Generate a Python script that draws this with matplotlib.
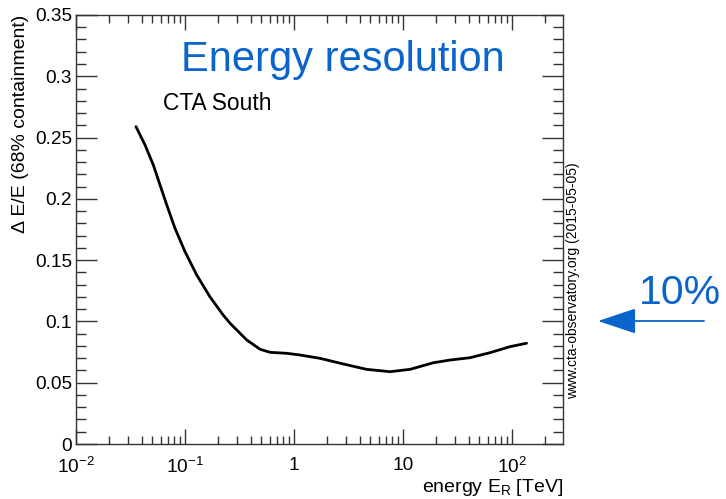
import numpy as np
import matplotlib.pyplot as plt
from matplotlib.ticker import FixedLocator, MultipleLocator, FuncFormatter

plt.rcParams['font.family'] = ['Liberation Sans', 'DejaVu Sans']
plt.rcParams['mathtext.fontset'] = 'custom'
plt.rcParams['mathtext.rm'] = 'Liberation Sans'
plt.rcParams['mathtext.it'] = 'Liberation Sans'

# energy resolution curve, CTA South
energy_tev = [0.0355, 0.0430, 0.0512, 0.0590, 0.0680, 0.0809, 0.100, 0.128,
              0.169, 0.224, 0.259, 0.368, 0.488, 0.602, 0.857, 1.135, 1.73,
              2.83, 4.64, 7.60, 11.6, 19.0, 27.0, 41.2, 62.8, 95.9, 136.0]
resolution = [0.2589, 0.2439, 0.2276, 0.2113, 0.1950, 0.1760, 0.1569, 0.1379,
              0.1202, 0.1052, 0.0985, 0.0849, 0.0773, 0.0748, 0.0740, 0.0726,
              0.0699, 0.0653, 0.0609, 0.0590, 0.0609, 0.0663, 0.0685, 0.0704,
              0.0745, 0.0794, 0.0822]

x_major = [1e-2, 1e-1, 1, 10, 1e2]
x_labels = ['$10^{-2}$', '$10^{-1}$', '1', '10', '$10^{2}$']

blue = '#0a64cc'
frame = '#333333'

fig = plt.figure(figsize=(7.26, 4.99), dpi=100)
ax = fig.add_axes([0.1047, 0.1102, 0.6708, 0.8598])

ax.plot(energy_tev, resolution, color='black', lw=2.0,
        solid_capstyle='round', solid_joinstyle='round')

ax.set_xscale('log')
ax.set_xlim(1e-2, 10 ** 2.468)
ax.set_ylim(0, 0.35)

ax.xaxis.set_major_locator(FixedLocator(x_major))
ax.xaxis.set_major_formatter(FuncFormatter(
    lambda v, p: x_labels[x_major.index(v)] if v in x_major else ''))
minors = [m * 10.0 ** d for d in range(-2, 3) for m in range(2, 10)]
ax.xaxis.set_minor_locator(FixedLocator(minors))
ax.xaxis.set_minor_formatter(FuncFormatter(lambda v, p: ''))
ax.yaxis.set_major_locator(MultipleLocator(0.05))
ax.yaxis.set_minor_locator(MultipleLocator(0.01))
ax.yaxis.set_major_formatter(FuncFormatter(lambda v, p: '0' if v == 0 else f'{v:g}'))

ax.tick_params(which='both', direction='in', top=True, right=True,
               color=frame, width=1.0, labelsize=13.7, labelcolor='black')
ax.tick_params(axis='y', which='major', length=15, pad=3)
ax.tick_params(axis='y', which='minor', length=7)
ax.tick_params(axis='x', which='major', length=11, pad=9)
ax.tick_params(axis='x', which='minor', length=6)
for s in ax.spines.values():
    s.set_color(frame)
    s.set_linewidth(1.0)

ax.set_ylabel('Δ E/E (68% containment)', fontsize=14, loc='top', labelpad=4)
ax.set_xlabel('energy E$_\\mathrm{R}$ [TeV]', fontsize=14, loc='right', labelpad=0)

fig.text(343 / 726, 1 - 60 / 499, 'Energy resolution', color=blue, fontsize=30,
         ha='center', va='center')
fig.text(163 / 726, 1 - 104 / 499, 'CTA South', fontsize=16.4,
         ha='left', va='center')
fig.text(573 / 726, 1 - 281 / 499, 'www.cta-observatory.org (2015-05-05)',
         fontsize=10, rotation=90, ha='center', va='center')

# 10% marker on the right
fig.text(680 / 726, 1 - 293 / 499, '10%', color=blue, fontsize=29.5,
         ha='center', va='center')
ax.annotate('', xy=(598 / 726, 1 - 321 / 499), xycoords='figure fraction',
            xytext=(704 / 726, 1 - 321 / 499), textcoords='figure fraction',
            annotation_clip=False,
            arrowprops=dict(arrowstyle='-|>,head_length=2.4,head_width=0.8',
                            color=blue, lw=1.3, shrinkA=0, shrinkB=0))

fig.savefig('out.png', dpi=100)
